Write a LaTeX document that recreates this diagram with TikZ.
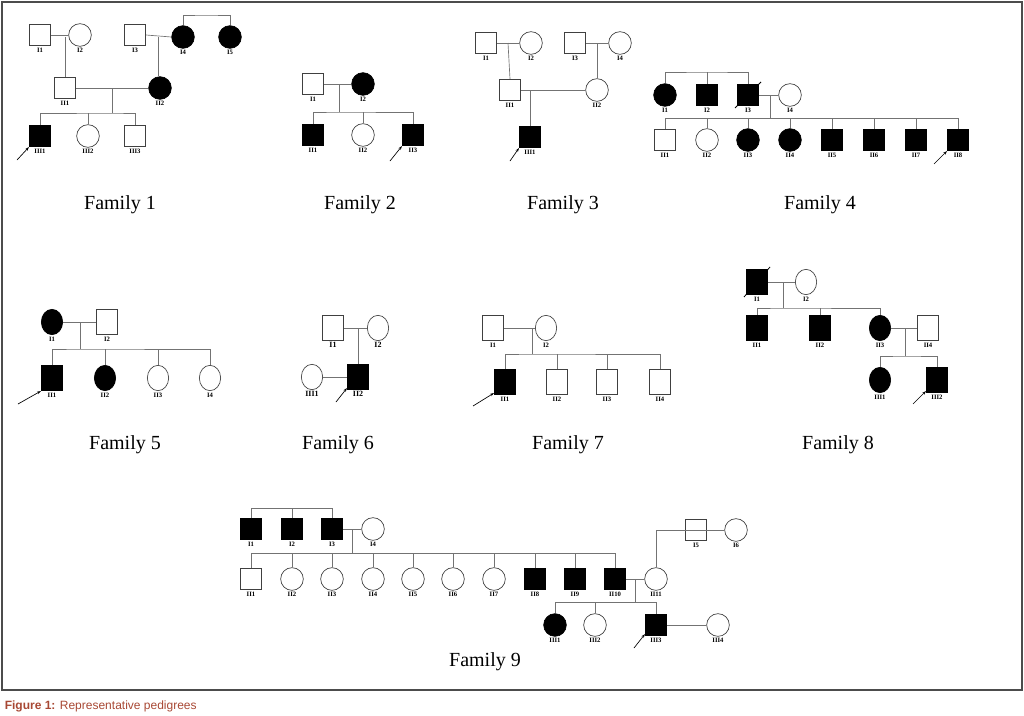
\documentclass[tikz,border=0pt]{standalone}
\usepackage{fontspec}
\setmainfont{Liberation Serif}
\newfontfamily\capfont{Liberation Sans}
\usetikzlibrary{arrows.meta,calc}
\definecolor{capred}{RGB}{168,72,52}
\begin{document}
\begin{tikzpicture}[x=0.75pt,y=-0.75pt,line width=0.5pt,
  M/.style={draw=black!75,fill=white,minimum size=16pt,inner sep=0pt},
  MA/.style={M,fill=black,draw=black},
  F/.style={circle,draw=black!75,fill=white,minimum size=17pt,inner sep=0pt},
  FA/.style={F,fill=black,draw=black},
  tall/.style={minimum height=19pt,minimum width=16pt},
  ell/.style={ellipse,minimum height=19pt,minimum width=16pt},
  lab/.style={font=\fontsize{5}{6}\selectfont\bfseries,inner sep=1pt},
  ln/.style={draw=black!55,line width=0.5pt},
  fam/.style={font=\fontsize{15}{18}\selectfont},
  prob/.style={-{Stealth[length=3pt,width=2pt]},line width=0.5pt}]
\usetikzlibrary{shapes.geometric}
\useasboundingbox (0,0) rectangle (1024,715);
\draw[black!70,line width=0.8pt] (2,2) rectangle (1022,690);
\node[anchor=west,font=\capfont\fontsize{9}{11}\selectfont,text=capred] (cap) at (0,706) {\textbf{Figure 1:} Representative pedigrees};

% ---------- Family 1
\node[M,label={[lab]below:I1}] (a1) at (40,35) {};
\node[F,label={[lab]below:I2}] (a2) at (80,35) {};
\node[M,label={[lab]below:I3}] (a3) at (135,35) {};
\node[FA,label={[lab]below:I4}] (a4) at (183,37) {};
\node[FA,label={[lab]below:I5}] (a5) at (230,37) {};
\node[M,label={[lab]below:II1}] (a6) at (65,88) {};
\node[FA,label={[lab]below:II2}] (a7) at (160,88) {};
\node[MA,label={[lab]below:III1}] (a8) at (40,136) {};
\node[F,label={[lab]below:III2}] (a9) at (88,136) {};
\node[M,label={[lab]below:III3}] (a10) at (135,136) {};
\coordinate (a45) at (206,15);
\coordinate (am12) at (65,37);
\coordinate (am34) at (158,37);
\coordinate (am67) at (112,88);
\coordinate (as) at (112,113);
\draw[ln] (a4.north) |- (a45) -| (a5.north);
\draw[ln] (a1.east) -- (a2.west);
\draw[ln] (a3.east) -- (a4.west);
\draw[ln] (am12) -- (a6.north);
\draw[ln] (am34) -- (am34 |- a7.north);
\draw[ln] (a6.east) -- (a7.west);
\draw[ln] (am67) -- (as);
\draw[ln] (a8.north) |- (as) -| (a10.north);
\draw[ln] (a9.north) -- (a9.north |- as);
\draw[prob] (17,160) -- (a8.south west);
\node[fam] (t1) at (120,205) {Family 1};

% ---------- Family 2
\node[M,label={[lab]below:I1}] (b1) at (313,84) {};
\node[FA,label={[lab]below:I2}] (b2) at (363,84) {};
\node[MA,label={[lab]below:II1}] (b3) at (313,135) {};
\node[F,label={[lab]below:II2}] (b4) at (363,135) {};
\node[MA,label={[lab]below:II3}] (b5) at (413,135) {};
\coordinate (bm) at (339,84);
\coordinate (bs) at (339,112);
\draw[ln] (b1.east) -- (b2.west);
\draw[ln] (bm) -- (bs);
\draw[ln] (b3.north) |- (bs) -| (b5.north);
\draw[ln] (b4.north) -- (b4.north |- bs);
\draw[prob] (390,161) -- (b5.south west);
\node[fam] (t2) at (360,205) {Family 2};

% ---------- Family 3
\node[M,label={[lab]below:I1}] (c1) at (486,43) {};
\node[F,label={[lab]below:I2}] (c2) at (531,43) {};
\node[M,label={[lab]below:I3}] (c3) at (575,43) {};
\node[F,label={[lab]below:I4}] (c4) at (620,43) {};
\node[M,label={[lab]below:II1}] (c5) at (510,90) {};
\node[F,label={[lab]below:II2}] (c6) at (597,90) {};
\node[MA,label={[lab]below:III1}] (c7) at (530,137) {};
\coordinate (cm12) at (508,43);
\coordinate (cm34) at (597,43);
\coordinate (cm56) at (530,90);
\draw[ln] (c1.east) -- (c2.west);
\draw[ln] (c3.east) -- (c4.west);
\draw[ln] (cm12) -- (c5.north);
\draw[ln] (cm34) -- (c6.north);
\draw[ln] (c5.east) -- (c6.west);
\draw[ln] (cm56) -- (c7.north);
\draw[prob] (510,161) -- (c7.south west);
\node[fam] (t3) at (563,205) {Family 3};

% ---------- Family 4
\node[FA,label={[lab]below:I1}] (d1) at (665,95) {};
\node[MA,label={[lab]below:I2}] (d2) at (707,95) {};
\node[MA,label={[lab]below:I3}] (d3) at (748,95) {};
\node[F,label={[lab]below:I4}] (d4) at (790,95) {};
\draw[line width=0.6pt] ($(d3.south west)+(-2,2)$) -- ($(d3.north east)+(2,-2)$);
\coordinate (dt) at (707,72);
\draw[ln] (d1.north) |- (dt) -| (d3.north);
\draw[ln] (d2.north) -- (dt);
\draw[ln] (d3.east) -- (d4.west);
\coordinate (dm) at (770,95);
\coordinate (ds) at (770,118);
\draw[ln] (dm) -- (ds);
\foreach \x/\s/\l [count=\i] in {665/F/II1,707/F/II2,748/FA/II3,790/FA/II4,832/MA/II5,874/MA/II6,916/MA/II7,958/MA/II8}{
  \ifnum\i=1 \node[M,label={[lab]below:\l}] (e\i) at (\x,140) {};
  \else \node[\s,label={[lab]below:\l}] (e\i) at (\x,140) {}; \fi
  \draw[ln] (e\i.north) -- (e\i.north |- ds);
}
\draw[ln] (e1.north |- ds) -- (e8.north |- ds);
\draw[prob] (934,164) -- (e8.south west);
\node[fam] (t4) at (820,205) {Family 4};

% ---------- Family 5
\node[FA,ell,label={[lab]below:I1}] (f1) at (52,322) {};
\node[M,tall,label={[lab]below:I2}] (f2) at (107,322) {};
\node[MA,tall,label={[lab]below:II1}] (f3) at (52,378) {};
\node[FA,ell,label={[lab]below:II2}] (f4) at (105,378) {};
\node[F,ell,label={[lab]below:II3}] (f5) at (158,378) {};
\node[F,ell,label={[lab]below:I4}] (f6) at (210,378) {};
\coordinate (fm) at (80,322);
\coordinate (fs) at (80,349);
\draw[ln] (f1.east) -- (f2.west);
\draw[ln] (fm) -- (fs);
\draw[ln] (f3.north) |- (fs) -| (f6.north);
\draw[ln] (f4.north) -- (f4.north |- fs);
\draw[ln] (f5.north) -- (f5.north |- fs);
\draw[prob] (18,404) -- (f3.south west);
\node[fam] (t5) at (125,445) {Family 5};

% ---------- Family 6
\node[M,tall,label={[lab,font=\fontsize{6}{7}\selectfont\bfseries]below:I1}] (g1) at (333,328) {};
\node[F,ell,label={[lab,font=\fontsize{6}{7}\selectfont\bfseries]below:I2}] (g2) at (378,328) {};
\node[F,ell,label={[lab,font=\fontsize{6}{7}\selectfont\bfseries]below:III1}] (g3) at (312,377) {};
\node[MA,tall,label={[lab,font=\fontsize{6}{7}\selectfont\bfseries]below:II2}] (g4) at (358,377) {};
\coordinate (gm) at (358,328);
\draw[ln] (g1.east) -- (g2.west);
\draw[ln] (gm) -- (g4.north);
\draw[ln] (g3.east) -- (g4.west);
\draw[prob] (336,402) -- ($(g4.south west)+(0,-2)$);
\node[fam] (t6) at (338,445) {Family 6};

% ---------- Family 7
\node[M,tall,label={[lab]below:I1}] (h1) at (493,328) {};
\node[F,ell,label={[lab]below:I2}] (h2) at (546,328) {};
\node[MA,tall,label={[lab]below:II1}] (h3) at (505,382) {};
\node[M,tall,label={[lab]below:II2}] (h4) at (557,382) {};
\node[M,tall,label={[lab]below:II3}] (h5) at (607,382) {};
\node[M,tall,label={[lab]below:II4}] (h6) at (660,382) {};
\coordinate (hm) at (532,328);
\coordinate (hs) at (532,354);
\draw[ln] (h1.east) -- (h2.west);
\draw[ln] (hm) -- (hs);
\draw[ln] (h3.north) |- (hs) -| (h6.north);
\draw[ln] (h4.north) -- (h4.north |- hs);
\draw[ln] (h5.north) -- (h5.north |- hs);
\draw[prob] (473,406) -- ($(h3.south west)+(0,-2)$);
\node[fam] (t7) at (568,445) {Family 7};

% ---------- Family 8
\node[MA,tall,label={[lab]below:I1}] (k1) at (757,282) {};
\node[F,ell,label={[lab]below:I2}] (k2) at (806,282) {};
\draw[line width=0.6pt] ($(k1.south west)+(-2,2)$) -- ($(k1.north east)+(2,-2)$);
\node[MA,tall,label={[lab]below:II1}] (k3) at (757,328) {};
\node[MA,tall,label={[lab]below:II2}] (k4) at (820,328) {};
\node[FA,ell,label={[lab]below:II3}] (k5) at (880,328) {};
\node[M,tall,label={[lab]below:II4}] (k6) at (928,328) {};
\node[FA,ell,label={[lab]below:III1}] (k7) at (880,380) {};
\node[MA,tall,label={[lab]below:III2}] (k8) at (937,380) {};
\coordinate (km) at (783,282);
\coordinate (ks) at (783,308);
\coordinate (km2) at (905,328);
\coordinate (ks2) at (905,356);
\draw[ln] (k1.east) -- (k2.west);
\draw[ln] (km) -- (ks);
\draw[ln] (k3.north) |- (ks) -| (k5.north);
\draw[ln] (k4.north) -- (k4.north |- ks);
\draw[ln] (k5.east) -- (k6.west);
\draw[ln] (km2) -- (ks2);
\draw[ln] (k7.north) |- (ks2) -| (k8.north);
\draw[prob] (913,404) -- ($(k8.south west)+(0,-2)$);
\node[fam] (t8) at (838,445) {Family 8};

% ---------- Family 9
\node[MA,label={[lab]below:I1}] (m1) at (251,529) {};
\node[MA,label={[lab]below:I2}] (m2) at (292,529) {};
\node[MA,label={[lab]below:I3}] (m3) at (332,529) {};
\node[F,label={[lab]below:I4}] (m4) at (373,529) {};
\node[M,label={[lab]below:I5}] (m5) at (696,530) {};
\node[F,label={[lab]below:I6}] (m6) at (736,530) {};
\coordinate (mt) at (292,508);
\draw[ln] (m1.north) |- (mt) -| (m3.north);
\draw[ln] (m2.north) -- (mt);
\draw[ln] (m3.east) -- (m4.west);
\draw[ln] (m5.east) -- (m6.west);
\coordinate (mm) at (352,529);
\coordinate (ms) at (352,553);
\draw[ln] (mm) -- (ms);
\foreach \x/\s/\l [count=\i] in {251/M/II1,292/F/II2,332/F/II3,373/F/II4,413/F/II5,453/F/II6,494/F/II7,535/MA/II8,575/MA/II9,615/MA/II10}{
  \node[\s,label={[lab]below:\l}] (n\i) at (\x,579) {};
  \draw[ln] (n\i.north) -- (n\i.north |- ms);
}
\draw[ln] (n1.north |- ms) -- (n10.north |- ms);
\node[F,label={[lab]below:II11}] (n11) at (656,579) {};
\coordinate (mm56) at (716,530);
\draw[ln] (mm56) -| (n11.north);
\draw[ln] (n10.east) -- (n11.west);
\coordinate (mm2) at (635,579);
\coordinate (ms2) at (635,602);
\draw[ln] (mm2) -- (ms2);
\node[FA,label={[lab]below:III1}] (p1) at (555,625) {};
\node[F,label={[lab]below:III2}] (p2) at (595,625) {};
\node[MA,label={[lab]below:III3}] (p3) at (656,625) {};
\node[F,label={[lab]below:III4}] (p4) at (718,625) {};
\draw[ln] (p1.north) |- (ms2) -| (p3.north);
\draw[ln] (p2.north) -- (p2.north |- ms2);
\draw[ln] (p3.east) -- (p4.west);
\draw[prob] (634,648) -- ($(p3.south west)+(0,-2)$);
\node[fam] (t9) at (485,662) {Family 9};
\end{tikzpicture}
\end{document}
